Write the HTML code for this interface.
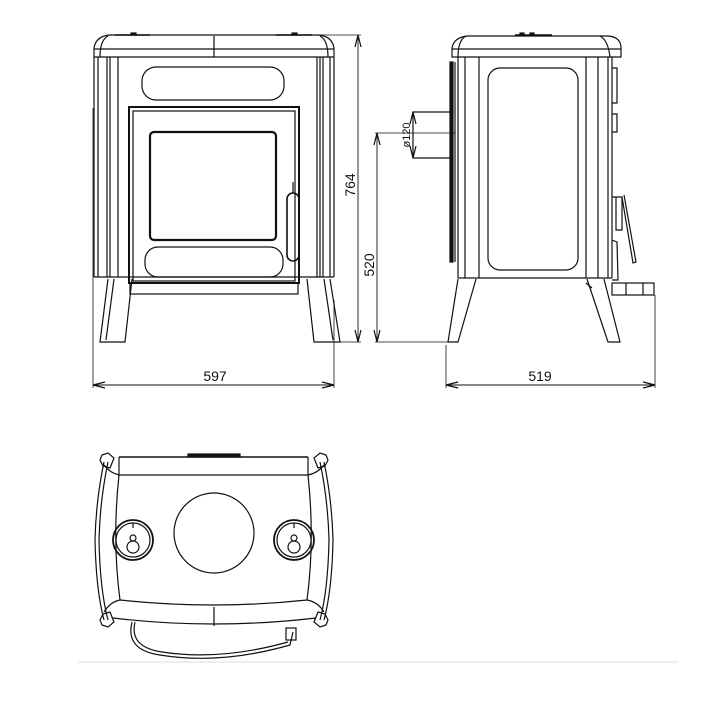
<!DOCTYPE html>
<html><head><style>html,body{margin:0;padding:0;background:#fff}svg{display:block}</style></head>
<body>
<svg width="714" height="715" viewBox="0 0 714 715" xmlns="http://www.w3.org/2000/svg" font-family="Liberation Sans, sans-serif">
<g fill="none" stroke="#111" stroke-width="1.2">
<!-- FRONT VIEW -->
<path d="M94,57 L94,48 Q96,36 110,35 L318,35 Q332,36 334,48 L334,57"/>
<line x1="94" y1="49" x2="334" y2="49"/>
<line x1="94" y1="57" x2="334" y2="57"/>
<line x1="214" y1="36" x2="214" y2="57"/>
<path d="M108,36 Q100,40 100,57 M320,36 Q328,40 328,57"/>
<line x1="115" y1="35" x2="150" y2="35" stroke-width="1.6"/>
<line x1="276" y1="35" x2="312" y2="35" stroke-width="1.6"/>
<rect x="131" y="33" width="5" height="2" fill="#111"/>
<rect x="292" y="33" width="5" height="2" fill="#111"/>
<line x1="94" y1="57" x2="94" y2="277"/>
<line x1="334" y1="57" x2="334" y2="277"/>
<line x1="98" y1="57" x2="98" y2="277"/>
<line x1="107" y1="57" x2="107" y2="277"/>
<line x1="110" y1="57" x2="110" y2="277"/>
<line x1="118" y1="57" x2="118" y2="277"/>
<line x1="317" y1="57" x2="317" y2="277"/>
<line x1="320" y1="57" x2="320" y2="277"/>
<line x1="323" y1="57" x2="323" y2="277"/>
<line x1="330" y1="57" x2="330" y2="277"/>
<line x1="94" y1="277" x2="334" y2="277"/>
<rect x="142" y="67" width="142" height="33" rx="14"/>
<rect x="129" y="107" width="170" height="176" stroke-width="2"/>
<rect x="133" y="111" width="162" height="170"/>
<rect x="150" y="132" width="126" height="108" rx="4" stroke-width="2.2"/>
<rect x="145" y="247" width="138" height="30" rx="13"/>
<rect x="287" y="193" width="12" height="68" rx="6" stroke-width="1.6"/>
<line x1="293" y1="182" x2="293" y2="193"/>
<rect x="130" y="283" width="168" height="11"/>
<path d="M108,279 L100,342 L125,342 L132,279"/>
<path d="M114,279 L106,340"/>
<path d="M307,279 L314,342 L340,342 L330,279"/>
<path d="M324,279 L333,340"/>
<!-- front dims -->
<line x1="300" y1="35" x2="361" y2="35" stroke-width="0.8"/>
<line x1="330" y1="342" x2="361" y2="342" stroke-width="0.8"/>
<line x1="358" y1="35" x2="358" y2="342" stroke-width="0.9"/>
<path d="M355,47 L358,35 L361,47 M355,330 L358,342 L361,330"/>
<line x1="93" y1="108" x2="93" y2="388" stroke-width="0.8"/>
<line x1="334" y1="300" x2="334" y2="388" stroke-width="0.8"/>
<line x1="93" y1="385" x2="334" y2="385" stroke-width="0.9"/>
<path d="M105,382 L93,385 L105,388 M322,382 L334,385 L322,388"/>
<!-- SIDE VIEW -->
<path d="M452,57 L452,48 Q454,37 468,36 L608,36 Q621,37 621,48 L621,57 Z"/>
<line x1="452" y1="49" x2="621" y2="49"/>
<path d="M466,36 Q458,40 458,57 M600,36 Q608,40 610,57"/>
<line x1="515" y1="35" x2="552" y2="35" stroke-width="1.6"/>
<rect x="520" y="33" width="4" height="2" fill="#111"/>
<rect x="530" y="33" width="4" height="2" fill="#111"/>
<line x1="458" y1="57" x2="458" y2="278"/>
<line x1="465" y1="57" x2="465" y2="278"/>
<line x1="479" y1="57" x2="479" y2="278"/>
<line x1="586" y1="57" x2="586" y2="278"/>
<line x1="598" y1="57" x2="598" y2="278"/>
<line x1="608" y1="57" x2="608" y2="278"/>
<line x1="612" y1="57" x2="612" y2="278"/>
<line x1="458" y1="278" x2="612" y2="278"/>
<rect x="488" y="68" width="90" height="202" rx="12"/>
<rect x="450" y="62" width="3" height="200" fill="#111"/>
<line x1="455" y1="62" x2="455" y2="262"/>
<path d="M450,112 L413,112 L413,158 L450,158"/>
<line x1="375" y1="133" x2="455" y2="133" stroke-width="0.7"/>
<path d="M612,68 L617,68 L617,103 L612,103 M612,114 L617,114 L617,132 L612,132"/>
<path d="M612,197 L622,197 L622,230 L616,230 L616,197"/>
<path d="M624,195 L636,262 L633,263 L622,197"/>
<path d="M612,240 L617,242 L618,280 L612,280"/>
<path d="M458,279 L448,342 L458,342 L476,279"/>
<path d="M587,279 L608,342 L620,342 L604,279"/>
<path d="M586,283 L592,288"/>
<rect x="612" y="283" width="42" height="12"/>
<line x1="626" y1="283" x2="626" y2="295"/>
<line x1="643" y1="283" x2="643" y2="295"/>
<!-- side dims -->
<line x1="377" y1="133" x2="377" y2="342" stroke-width="0.9"/>
<path d="M374,145 L377,133 L380,145 M374,330 L377,342 L380,330"/>
<line x1="375" y1="342" x2="455" y2="342" stroke-width="0.8"/>
<line x1="413" y1="114" x2="413" y2="156" stroke-width="0.8"/>
<path d="M410,124 L413,112 L416,124 M410,146 L413,158 L416,146"/>
<line x1="446" y1="345" x2="446" y2="388" stroke-width="0.8"/>
<line x1="655" y1="295" x2="655" y2="388" stroke-width="0.8"/>
<line x1="446" y1="385" x2="655" y2="385" stroke-width="0.9"/>
<path d="M458,382 L446,385 L458,388 M643,382 L655,385 L643,388"/>
<!-- TOP VIEW -->
<path d="M104,462 Q96,500 95,540 Q96,590 104,620"/>
<path d="M108,462 Q100,500 99,540 Q100,590 108,620"/>
<path d="M324,462 Q332,500 333,540 Q332,590 324,620"/>
<path d="M320,462 Q328,500 329,540 Q328,590 320,620"/>
<line x1="119" y1="457" x2="308" y2="457" stroke-width="1.6"/>
<rect x="188" y="454" width="52" height="3" fill="#111"/>
<line x1="119" y1="475" x2="308" y2="475"/>
<path d="M104,465 Q110,473 119,475 M324,465 Q318,473 308,475"/>
<line x1="119" y1="457" x2="119" y2="475"/>
<line x1="308" y1="457" x2="308" y2="475"/>
<path d="M119,475 Q112,540 120,600 M308,475 Q315,540 307,600"/>
<path d="M104,612 Q110,602 120,600 Q214,610 307,600 Q318,602 324,612"/>
<path d="M113,618 Q214,630 316,618"/>
<line x1="214" y1="607" x2="214" y2="626"/>
<path d="M102,455 L108,453 L114,458 L110,468 L103,466 L100,460 Z"/>
<path d="M326,455 L320,453 L314,458 L318,468 L325,466 L328,460 Z"/>
<path d="M102,625 L108,627 L114,622 L110,612 L103,614 L100,620 Z"/>
<path d="M326,625 L320,627 L314,622 L318,612 L325,614 L328,620 Z"/>
<path d="M132,622 Q125,650 160,655 Q220,665 290,645 L293,632"/>
<path d="M135,622 Q129,647 162,652 Q220,661 288,642"/>
<rect x="286" y="628" width="10" height="12"/>
<circle cx="214" cy="533" r="40"/>
<circle cx="133" cy="540" r="20" stroke-width="1.8"/>
<circle cx="133" cy="540" r="17"/>
<circle cx="133" cy="547" r="6"/>
<circle cx="133" cy="538" r="3"/>
<line x1="133" y1="523" x2="133" y2="528"/>
<circle cx="294" cy="540" r="20" stroke-width="1.8"/>
<circle cx="294" cy="540" r="17"/>
<circle cx="294" cy="547" r="6"/>
<circle cx="294" cy="538" r="3"/>
<line x1="294" y1="523" x2="294" y2="528"/>
</g>
<line x1="78" y1="662" x2="678" y2="662" stroke="#ddd" stroke-width="1"/>
<g font-size="14" fill="#111" text-anchor="middle">
<text x="215" y="381">597</text>
<text x="540" y="381">519</text>
<text transform="translate(355,185) rotate(-90)">764</text>
<text transform="translate(374,265) rotate(-90)">520</text>
<text transform="translate(410,135) rotate(-90)" font-size="11">ø120</text>
</g>
</svg>
</body></html>
